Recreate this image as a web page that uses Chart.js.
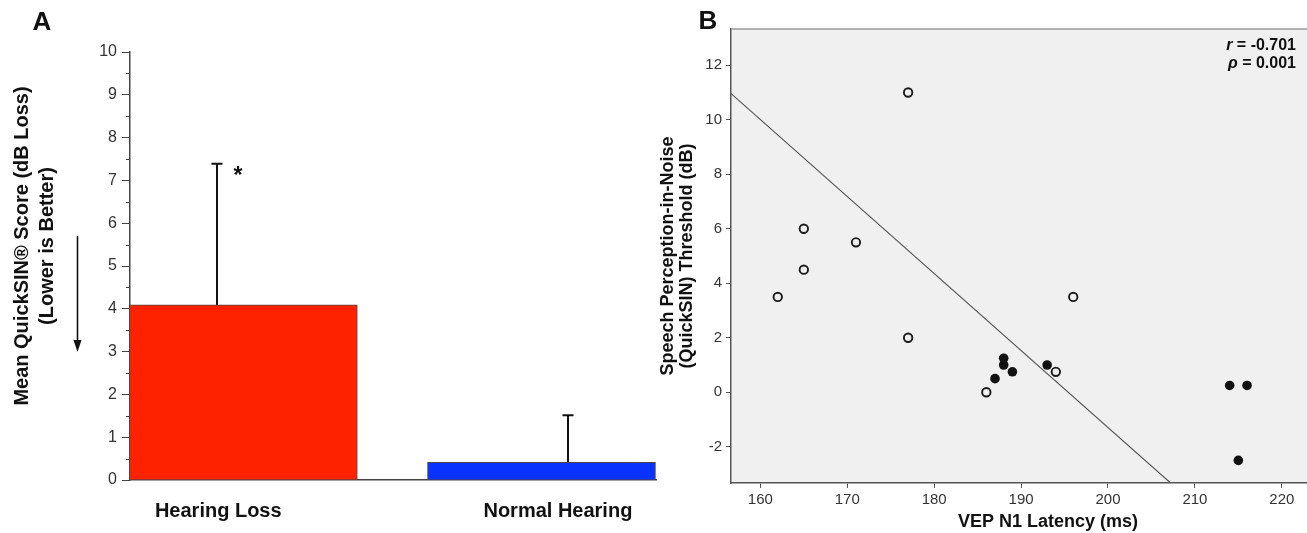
<!DOCTYPE html>
<html>
<head>
<meta charset="utf-8">
<script src="https://cdn.jsdelivr.net/npm/chart.js@4"></script>
<style>
  body { margin: 0; background: #fff; width: 1307px; height: 533px; overflow: hidden; position: relative; }
  canvas { position: absolute; top: 0; }
  #chartA { left: 0; }
  #chartB { left: 640px; }
</style>
</head>
<body>
<canvas id="chartA" width="680" height="533"></canvas>
<canvas id="chartB" width="667" height="533"></canvas>
<script>

// Panel A : mean QuickSIN score per group
var groups = ["Hearing Loss", "Normal Hearing"];
var meanScore = [4.09, 0.41];
var sdScore = [3.30, 1.10];

// Panel B : VEP N1 latency vs QuickSIN threshold
var openLatency = [162, 165, 165, 171, 177, 177, 186, 194, 196];
var openThreshold = [3.5, 6, 4.5, 5.5, 11, 2, 0, 0.75, 3.5];
var filledLatency = [187, 188, 188, 189, 193, 214, 216, 215];
var filledThreshold = [0.5, 1.25, 1, 0.75, 1, 0.25, 0.25, -2.5];
var fitLatency = [156.6, 207.2];
var fitThreshold = [10.97, -3.33];
var statSymbol = ["r", "\u03c1"];
var statText = [" = -0.701", " = 0.001"];

var FONT = "'Liberation Sans', Arial, sans-serif";

function toPoints(xs, ys){
	return xs.map(function(x, i){ return {x: x, y: ys[i]}; });
}

// ---------- panel A ----------
var errShift = [-0.087, 0.09];    // error bars sit off the bar centre in the original
var labelShift = [-0.084, 0.055];

var panelA = {
	id: 'panelA',
	afterDraw: function(chart){
		var ctx = chart.ctx, xs = chart.scales.x, ys = chart.scales.y;
		var left = chart.chartArea.left;
		ctx.save();

		// minor ticks
		ctx.strokeStyle = '#444';
		ctx.lineWidth = 1;
		for (var v = 0.5; v < 10; v += 1) {
			var py = Math.round(ys.getPixelForValue(v)) + 0.5;
			ctx.beginPath();
			ctx.moveTo(left - 4, py);
			ctx.lineTo(left, py);
			ctx.stroke();
		}

		// error bars
		ctx.strokeStyle = '#111';
		ctx.lineWidth = 2;
		for (var i = 0; i < meanScore.length; i++) {
			var px = Math.round(xs.getPixelForValue(i + errShift[i]));
			var yb = ys.getPixelForValue(meanScore[i]);
			var yt = ys.getPixelForValue(meanScore[i] + sdScore[i]);
			ctx.beginPath();
			ctx.moveTo(px, yb);
			ctx.lineTo(px, yt);
			ctx.moveTo(px - 5.5, yt);
			ctx.lineTo(px + 5.5, yt);
			ctx.stroke();
			if (i === 0) {
				ctx.fillStyle = '#111';
				ctx.font = 'bold 23px ' + FONT;
				ctx.textAlign = 'center';
				ctx.textBaseline = 'alphabetic';
				ctx.fillText('*', px + 21, yt + 19);
			}
		}

		// arrow: lower is better
		var ax = 77.5, ay1 = ys.getPixelForValue(5.7), ay2 = ys.getPixelForValue(2.99);
		ctx.strokeStyle = '#111';
		ctx.lineWidth = 1.6;
		ctx.beginPath();
		ctx.moveTo(ax, ay1);
		ctx.lineTo(ax, ay2 - 8);
		ctx.stroke();
		ctx.fillStyle = '#111';
		ctx.beginPath();
		ctx.moveTo(ax - 4, ay2 - 12);
		ctx.lineTo(ax + 4, ay2 - 12);
		ctx.lineTo(ax, ay2);
		ctx.closePath();
		ctx.fill();

		// y title (two lines)
		ctx.save();
		ctx.translate(22, 246);
		ctx.rotate(-Math.PI / 2);
		ctx.font = 'bold 20px ' + FONT;
		ctx.textAlign = 'center';
		ctx.textBaseline = 'middle';
		ctx.fillText('Mean QuickSIN\u00ae Score (dB Loss)', 0, 0);
		ctx.fillText('(Lower is Better)', 0, 25.5);
		ctx.restore();

		// panel letter
		ctx.font = 'bold 26px ' + FONT;
		ctx.textAlign = 'center';
		ctx.textBaseline = 'middle';
		ctx.fillText('A', 42, 23);
		ctx.restore();
	}
};

new Chart(document.getElementById('chartA'), {
	type: 'bar',
	data: {
		datasets: [{
			data: meanScore.map(function(v, i){ return {x: i, y: v}; }),
			backgroundColor: ['#ff2200', '#0a32ff'],
			borderColor: '#4a4a4a',
			borderWidth: 1,
			barThickness: 228
		}]
	},
	options: {
		responsive: false,
		animation: false,
		events: [],
		layout: { autoPadding: false, padding: { top: 52, right: 24, left: 0, bottom: 0 } },
		plugins: { legend: { display: false }, tooltip: { enabled: false } },
		scales: {
			x: {
				type: 'linear',
				offset: false,
				min: -0.38,
				max: 1.384,
				grid: { display: false },
				border: { display: true, color: '#444', width: 1.5 },
				afterBuildTicks: function(s){
					s.ticks = groups.map(function(g, i){ return {value: i + labelShift[i]}; });
				},
				afterFit: function(s){ s.height = 53; },
				ticks: {
					autoSkip: false, maxRotation: 0, padding: 11,
					color: '#111',
					font: { family: FONT, size: 20, weight: 'bold' },
					callback: function(v, i){ return groups[i]; }
				}
			},
			y: {
				min: 0,
				max: 10,
				grid: { display: true, drawOnChartArea: false, drawTicks: true, tickLength: 8, color: '#444', lineWidth: 1 },
				border: { display: true, color: '#444', width: 1.5 },
				ticks: { stepSize: 1, padding: 5, color: '#333', font: { family: FONT, size: 16 } },
				afterFit: function(s){ s.width = 130; }
			}
		}
	},
	plugins: [panelA]
});

// ---------- panel B ----------
var panelB = {
	id: 'panelB',
	beforeDraw: function(chart){
		var ctx = chart.ctx, a = chart.chartArea;
		ctx.save();
		ctx.fillStyle = '#f0f0f0';
		ctx.fillRect(a.left, a.top, a.right - a.left, a.bottom - a.top);
		ctx.restore();
	},
	afterDraw: function(chart){
		var ctx = chart.ctx, a = chart.chartArea;
		ctx.save();
		ctx.strokeStyle = '#9a9a9a';
		ctx.lineWidth = 1.5;
		ctx.beginPath();
		ctx.moveTo(a.left, a.top);
		ctx.lineTo(a.right, a.top);
		ctx.stroke();

		// correlation text
		ctx.fillStyle = '#111';
		ctx.textBaseline = 'middle';
		ctx.textAlign = 'left';
		var right = 656;
		for (var i = 0; i < statSymbol.length; i++) {
			ctx.font = 'bold 16px ' + FONT;
			var w2 = ctx.measureText(statText[i]).width;
			ctx.font = 'italic bold 16px ' + FONT;
			var w1 = ctx.measureText(statSymbol[i]).width;
			var y = 46 + i * 18;
			ctx.fillText(statSymbol[i], right - w1 - w2, y);
			ctx.font = 'bold 16px ' + FONT;
			ctx.fillText(statText[i], right - w2, y);
		}

		// x title
		ctx.font = 'bold 18px ' + FONT;
		ctx.textAlign = 'center';
		ctx.fillText('VEP N1 Latency (ms)', 408, 522);

		// panel letter
		ctx.font = 'bold 26px ' + FONT;
		ctx.fillText('B', 68, 22);
		ctx.restore();
	}
};

new Chart(document.getElementById('chartB'), {
	type: 'scatter',
	data: {
		datasets: [{
			data: toPoints(openLatency, openThreshold),
			pointStyle: 'circle',
			pointRadius: 4.2,
			pointBorderWidth: 1.9,
			pointBorderColor: '#1a1a1a',
			pointBackgroundColor: '#f0f0f0'
		}, {
			data: toPoints(filledLatency, filledThreshold),
			pointStyle: 'circle',
			pointRadius: 4.8,
			pointBorderWidth: 0,
			pointBackgroundColor: '#111'
		}, {
			data: toPoints(fitLatency, fitThreshold),
			showLine: true,
			borderColor: '#555',
			borderWidth: 1.1,
			pointRadius: 0,
			fill: false
		}]
	},
	options: {
		responsive: false,
		animation: false,
		events: [],
		layout: { autoPadding: false, padding: { top: 29, right: 0, left: 0, bottom: 0 } },
		plugins: { legend: { display: false }, tooltip: { enabled: false } },
		scales: {
			x: {
				min: 156.62,
				max: 222.9,
				grid: { display: true, drawOnChartArea: false, tickLength: 5, color: '#555' },
				border: { display: true, color: '#555', width: 1.5 },
				ticks: { stepSize: 10, includeBounds: false, padding: 3, maxRotation: 0, color: '#333', font: { family: FONT, size: 15 } },
				afterFit: function(s){ s.height = 50; s.paddingLeft = 0; s.paddingRight = 0; }
			},
			y: {
				min: -3.33,
				max: 13.33,
				grid: { display: true, drawOnChartArea: false, tickLength: 5, color: '#555' },
				border: { display: true, color: '#555', width: 1.5 },
				ticks: { stepSize: 2, includeBounds: false, padding: 4, color: '#333', font: { family: FONT, size: 15 } },
				title: {
					display: true,
					text: ['Speech Perception-in-Noise', '(QuickSIN) Threshold (dB)'],
					color: '#111',
					font: { family: FONT, size: 18, weight: 'bold', lineHeight: 1.06 },
					padding: { top: 18.5, bottom: 0 }
				},
				afterFit: function(s){ s.width = 91; }
			}
		}
	},
	plugins: [panelB]
});

</script>
</body>
</html>
